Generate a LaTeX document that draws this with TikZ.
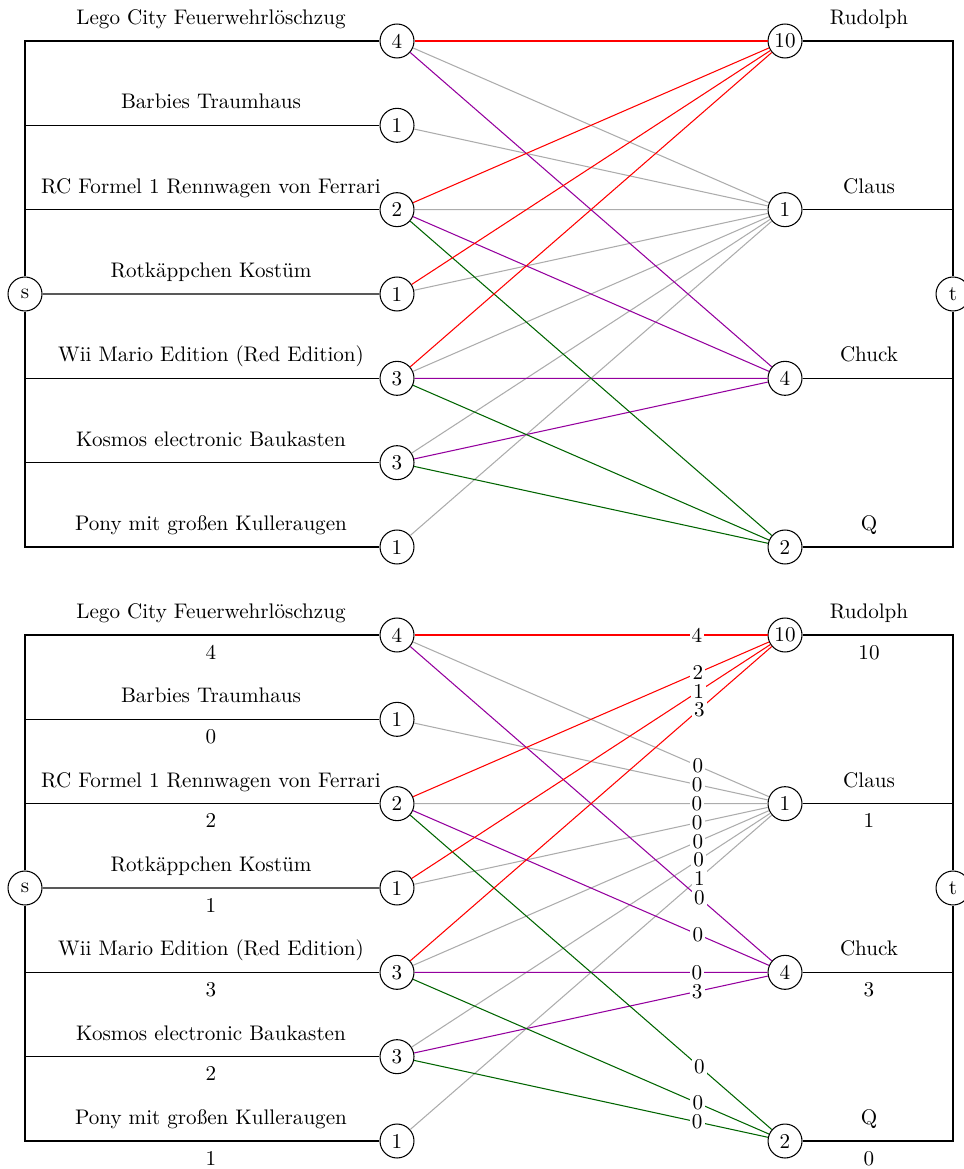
\documentclass[tikz,border=0pt]{standalone}
\usepackage{fontspec}
\definecolor{edgepurple}{RGB}{148,0,158}
\definecolor{edgegreen}{RGB}{0,100,0}
\definecolor{edgegrey}{RGB}{172,172,172}
\begin{document}
\begin{tikzpicture}[x=0.474pt,y=-0.474pt,
  vert/.style={circle,draw,line width=0.5pt,minimum size=16.1pt,inner sep=0.5pt,fill=white},
  conn/.style={line width=0.5pt},
  redE/.style={conn,red},
  greyE/.style={conn,edgegrey},
  purpE/.style={conn,edgepurple},
  greenE/.style={conn,edgegreen},
  flab/.style={fill=white,inner sep=1pt},
  txt/.style={anchor=base,inner sep=0pt}]
\useasboundingbox (0,0) rectangle (963,1169);
\foreach \d/\oy in {1/0,2/594}{
  % source, sink
  \node[vert] (s\d) at (25,{294+\oy}) {s};
  \node[vert] (t\d) at (953,{294+\oy}) {t};
  % left nodes
  \foreach \i/\cap/\name/\f in {1/4/{Lego City Feuerwehrlöschzug}/4,
                                2/1/{Barbies Traumhaus}/0,
                                3/2/{RC Formel 1 Rennwagen von Ferrari}/2,
                                4/1/{Rotkäppchen Kostüm}/1,
                                5/3/{Wii Mario Edition (Red Edition)}/3,
                                6/3/{Kosmos electronic Baukasten}/2,
                                7/1/{Pony mit großen Kulleraugen}/1}{
    \pgfmathsetmacro{\yy}{41+84.333*(\i-1)+\oy}
    \node[vert] (L\d-\i) at (397,\yy) {\cap};
    \ifnum\i=4 \draw[conn] (s\d) -- (L\d-\i);
    \else \draw[conn] (s\d) |- (L\d-\i);\fi
    \node[txt] (LN\d-\i) at (211,{\yy-16.5}) {\name};
    \ifnum\d=2 \node[txt] (LF\d-\i) at (211,{\yy+24}) {\f};\fi
  }
  % right nodes
  \foreach \j/\cap/\name/\f in {1/10/Rudolph/10, 2/1/Claus/1, 3/4/Chuck/3, 4/2/Q/0}{
    \pgfmathsetmacro{\yy}{41+168.667*(\j-1)+\oy}
    \node[vert] (R\d-\j) at (785,\yy) {\cap};
    \draw[conn] (R\d-\j) -| (t\d);
    \node[txt] (RN\d-\j) at (869,{\yy-16.5}) {\name};
    \ifnum\d=2 \node[txt] (RF\d-\j) at (869,{\yy+24}) {\f};\fi
  }
  % middle edges
  \foreach \a/\b/\st in {1/2/greyE,2/2/greyE,3/2/greyE,4/2/greyE,5/2/greyE,6/2/greyE,7/2/greyE,
                         1/3/purpE,3/3/purpE,5/3/purpE,6/3/purpE,
                         3/4/greenE,5/4/greenE,6/4/greenE,
                         1/1/redE,3/1/redE,4/1/redE,5/1/redE}{
    \draw[\st] (L\d-\a) -- (R\d-\b);
  }
}
% flow labels on middle edges (second diagram)
\foreach \a/\b/\v in {1/1/4,1/2/0,1/3/0,2/2/0,3/1/2,3/2/0,3/3/0,3/4/0,
                      4/1/1,4/2/0,5/1/3,5/2/0,5/3/0,5/4/0,6/2/0,6/3/3,6/4/0,7/2/1}{
  \path (L2-\a) -- node[pos=0.8,flab] (F-\a-\b) {\v} (R2-\b);
}
\end{tikzpicture}
\end{document}
